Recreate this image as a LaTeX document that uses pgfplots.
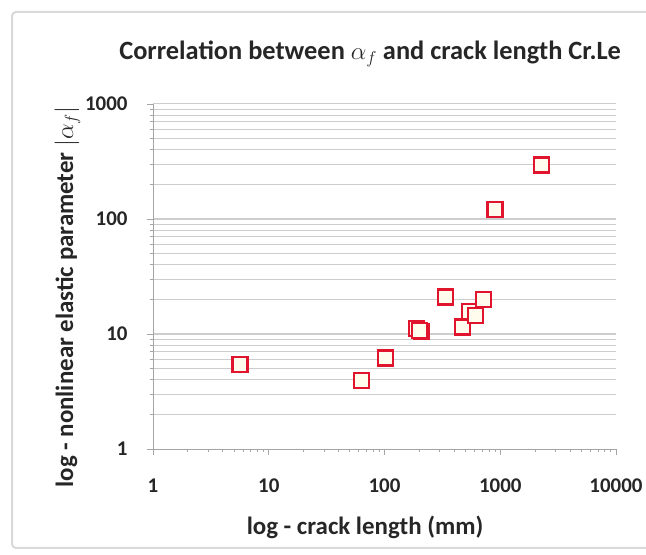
\documentclass[border=0pt]{standalone}
\usepackage{fontspec}
\setmainfont{Carlito}
\usepackage{pgfplots}
\pgfplotsset{compat=1.18}
\definecolor{markred}{RGB}{225,20,45}
\definecolor{markfill}{RGB}{255,252,238}
\definecolor{gridgray}{RGB}{205,205,205}
\definecolor{axgray}{RGB}{165,165,165}
\begin{document}
\begin{tikzpicture}
\useasboundingbox (0bp,0bp) rectangle (646bp,555bp);
\draw[gray!30, line width=2bp, rounded corners=4bp] (12bp,7bp) rectangle (700bp,543bp);
\begin{axis}[
  at={(153bp,106bp)}, anchor=south west,
  scale only axis, width=463bp, height=345bp,
  xmode=log, ymode=log,
  xmin=1, xmax=10000, ymin=1, ymax=1000,
  axis x line=bottom, axis y line=left,
  axis line style={-, axgray, line width=1bp},
  xtick={1,10,100,1000,10000}, xticklabels={1,10,100,1000,10000},
  ytick={1,10,100,1000}, yticklabels={1,10,100,1000},
  ymajorgrids, yminorgrids,
  major grid style={gridgray, line width=1bp},
  minor grid style={gridgray, line width=0.9bp},
  tick style={axgray, line width=0.8bp},
  tick align=outside, major tick length=6bp, minor tick length=3bp,
  ticklabel style={font=\fontsize{21}{24}\selectfont\bfseries, text=black!85},
  xticklabel style={yshift=-20bp},
  yticklabel style={xshift=-16bp},
  title={Correlation between $\alpha_f$ and crack length Cr.Le},
  title style={font=\fontsize{26.5}{30}\selectfont\bfseries, text=black!85,
    at={(axis description cs:0.469,1.128)}, anchor=center},
  xlabel={log - crack length (mm)},
  ylabel={log - nonlinear elastic parameter $|\alpha_f|$},
  label style={font=\fontsize{25}{30}\selectfont\bfseries, text=black!85},
  xlabel style={at={(axis description cs:0.458,-0.226)}, anchor=center},
  ylabel style={at={(axis description cs:-0.185,0.44)}, anchor=center},
  clip=false,
]
\addplot[only marks, mark=square*, mark size=7.5bp,
  mark options={draw=markred, fill=markfill, line width=2.2bp}]
  coordinates {
    (5.64,5.40) (63.6,3.94) (102,6.18) (190,11.1) (210,10.5) (200,10.8)
    (338,21.0) (470,11.5) (540,15.7) (609,14.4) (719,19.9) (901,121) (2280,295)
  };
\end{axis}
\end{tikzpicture}
\end{document}
